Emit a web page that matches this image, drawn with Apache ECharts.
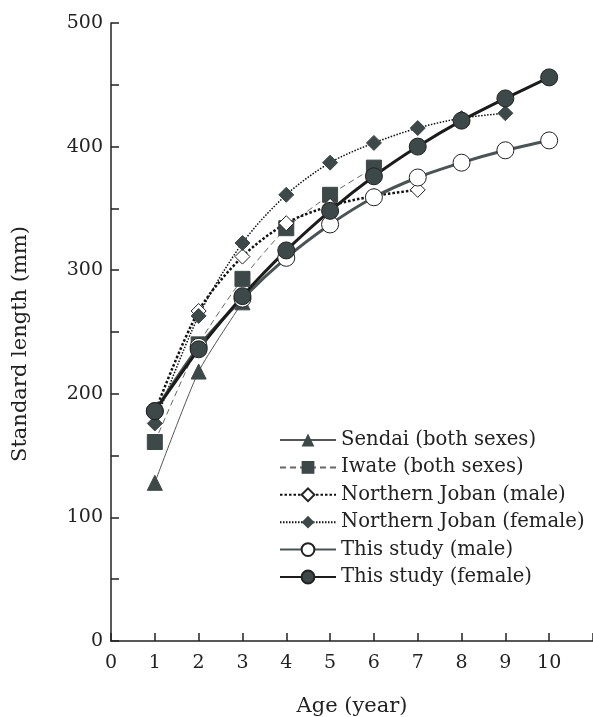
<!DOCTYPE html>
<html>
<head>
<meta charset="utf-8">
<script src="https://cdn.jsdelivr.net/npm/echarts@6/dist/echarts.min.js"></script>
<style>
  html, body { margin: 0; padding: 0; background: #fff; }
  #chart { width: 593px; height: 717px; }
</style>
</head>
<body>
<div id="chart"></div>
<script>
// age (year) of each reading
const ages = [1, 2, 3, 4, 5, 6, 7, 8, 9, 10]

// standard length (mm)
const sendai = [128, 218, 274]
const iwate = [161, 240, 293, 334, 361, 383]
const jobanMale = [185, 267, 311, 338, 352, 360, 365]
const jobanFemale = [176, 263, 322, 361, 387, 403, 415, 423, 427]
const studyMale = [186, 238, 277, 310, 337, 359, 375, 387, 397, 405]
const studyFemale = [186, 236, 279, 316, 348, 376, 400, 421, 439, 456]

const names = [
  'Sendai (both sexes)',
  'Iwate (both sexes)',
  'Northern Joban (male)',
  'Northern Joban (female)',
  'This study (male)',
  'This study (female)'
]

const font = 'DejaVu Serif'
const ink = '#222'
const slate = '#3d4848'

let pairs = vals => vals.map((v, i) => [ages[i], v])

const chart = echarts.init(document.getElementById('chart'))

chart.setOption({
  animation: false,
  backgroundColor: '#fff',
  textStyle: { fontFamily: font, color: ink },
  grid: {
    left: 111, right: 0, top: 23, bottom: 76,
    containLabel: false, outerBoundsMode: 'none'
  },
  legend: {
    left: 274,
    top: 425,
    orient: 'vertical',
    itemWidth: 56,
    itemHeight: 16,
    itemGap: 7.4,
    data: names,
    textStyle: { fontFamily: font, fontSize: 19.6, color: ink }
  },
  xAxis: {
    type: 'value',
    min: 0,
    max: 11,
    interval: 1,
    name: 'Age (year)',
    nameLocation: 'middle',
    nameGap: 55,
    nameTextStyle: { fontFamily: font, fontSize: 21, color: ink },
    axisLine: { lineStyle: { color: ink, width: 1.5 } },
    axisTick: { inside: true, length: 8, lineStyle: { color: ink, width: 1.5 } },
    axisLabel: {
      fontFamily: font, fontSize: 19, color: ink, margin: 13,
      formatter: v => (v <= 10 ? String(v) : '')
    },
    splitLine: { show: false }
  },
  yAxis: {
    type: 'value',
    min: 0,
    max: 500,
    interval: 50,
    name: 'Standard length (mm)',
    nameLocation: 'middle',
    nameRotate: 90,
    nameGap: 80,
    nameTextStyle: { fontFamily: font, fontSize: 21, color: ink, padding: [0, 24, 0, 0] },
    axisLine: { show: true, lineStyle: { color: ink, width: 1.5 } },
    axisTick: { show: true, inside: true, length: 8, lineStyle: { color: ink, width: 1.5 } },
    axisLabel: {
      fontFamily: font, fontSize: 19, color: ink, margin: 8,
      formatter: v => (v % 100 === 0 ? String(v) : '')
    },
    splitLine: { show: false }
  },
  series: [
    {
      name: names[0], type: 'line', data: pairs(sendai), smooth: 0.2,
      symbol: 'triangle', symbolSize: 15,
      lineStyle: { color: '#555', width: 1 },
      itemStyle: { color: slate, borderColor: slate }
    },
    {
      name: names[1], type: 'line', data: pairs(iwate), smooth: 0.2,
      symbol: 'rect', symbolSize: 15,
      lineStyle: { color: '#666', width: 1, type: [6, 4] },
      itemStyle: { color: slate, borderColor: slate }
    },
    {
      name: names[2], type: 'line', data: pairs(jobanMale), smooth: 0.3,
      symbol: 'diamond', symbolSize: 15,
      lineStyle: { color: '#111', width: 2.5, type: [2.5, 2] },
      itemStyle: { color: '#fff', borderColor: '#222', borderWidth: 1 }
    },
    {
      name: names[3], type: 'line', data: pairs(jobanFemale), smooth: 0.3,
      symbol: 'diamond', symbolSize: 15,
      lineStyle: { color: '#111', width: 1.5, type: [1.5, 1.5] },
      itemStyle: { color: slate, borderColor: slate }
    },
    {
      name: names[4], type: 'line', data: pairs(studyMale), smooth: 0.3,
      symbol: 'circle', symbolSize: 17,
      lineStyle: { color: '#4a5454', width: 3 },
      itemStyle: { color: '#fff', borderColor: '#222', borderWidth: 1 }
    },
    {
      name: names[5], type: 'line', data: pairs(studyFemale), smooth: 0.2,
      symbol: 'circle', symbolSize: 17,
      lineStyle: { color: '#1c1c1c', width: 3 },
      itemStyle: { color: slate, borderColor: '#222', borderWidth: 1 }
    }
  ]
})
</script>
</body>
</html>
